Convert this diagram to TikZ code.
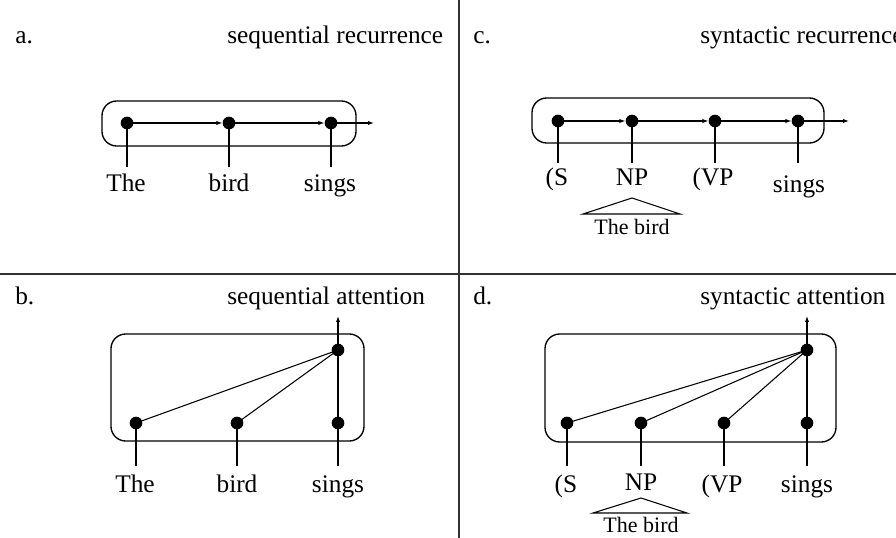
\documentclass[tikz,border=0pt]{standalone}
\usepackage{fontspec}
\setmainfont{Liberation Serif}
\usetikzlibrary{arrows.meta}
\begin{document}
\begin{tikzpicture}[x=0.75pt,y=-0.75pt,
  dot/.style={circle,fill=black,inner sep=0pt,minimum size=9.5pt},
  lbl/.style={anchor=base,inner sep=0pt,font=\fontsize{19}{22}\selectfont},
  title/.style={anchor=base west,inner sep=0pt,font=\fontsize{19}{22}\selectfont},
  small/.style={anchor=base,inner sep=0pt,font=\fontsize{16.5}{19}\selectfont},
  box/.style={draw,line width=1pt,rounded corners=11pt},
  conn/.style={line width=0.8pt},
  arr/.style={line width=0.8pt,-{Latex[length=4.5pt,width=3.2pt]}},
  divider/.style={line width=0.9pt,draw=black!80}]
\clip (0,0) rectangle (896,538);
% dividers
\draw[divider] (459,0) -- (459,538);
\draw[divider] (0,274) -- (896,274);
% titles
\node[title] (ta) at (15,44) {a.};
\node[title] (tat) at (227,44) {sequential recurrence};
\node[title] (tb) at (15,305) {b.};
\node[title] (tbt) at (227,305) {sequential attention};
\node[title] (tc) at (473,44) {c.};
\node[title] (tct) at (700,44) {syntactic recurrence};
\node[title] (td) at (473,305) {d.};
\node[title] (tdt) at (700,305) {syntactic attention};

% ---------- panel a ----------
\draw[box] (102,101) rectangle (356,146);
\node[dot] (a1) at (127,123) {};
\node[dot] (a2) at (229,123) {};
\node[dot] (a3) at (331,123) {};
\coordinate (aout) at (374,123);
\coordinate (al1) at (127,167);
\coordinate (al2) at (229,167);
\coordinate (al3) at (331,167);
\draw[arr] (a1.center) -- (a2);
\draw[arr] (a2.center) -- (a3);
\draw[arr] (a3.center) -- (aout);
\draw[conn] (a1.center) -- (al1);
\draw[conn] (a2.center) -- (al2);
\draw[conn] (a3.center) -- (al3);
\node[lbl] (aw1) at (126,192) {The};
\node[lbl] (aw2) at (229,192) {bird};
\node[lbl] (aw3) at (330,192) {sings};

% ---------- panel c ----------
\draw[box] (532,98) rectangle (824,143);
\node[dot] (c1) at (558,121) {};
\node[dot] (c2) at (632,121) {};
\node[dot] (c3) at (715,121) {};
\node[dot] (c4) at (798,121) {};
\coordinate (cout) at (849,121);
\coordinate (cl1) at (558,163);
\coordinate (cl2) at (632,163);
\coordinate (cl3) at (715,163);
\coordinate (cl4) at (798,163);
\draw[arr] (c1.center) -- (c2);
\draw[arr] (c2.center) -- (c3);
\draw[arr] (c3.center) -- (c4);
\draw[arr] (c4.center) -- (cout);
\draw[conn] (c1.center) -- (cl1);
\draw[conn] (c2.center) -- (cl2);
\draw[conn] (c3.center) -- (cl3);
\draw[conn] (c4.center) -- (cl4);
\node[lbl] (cw1) at (557,186) {(S};
\node[lbl] (cw2) at (632,186) {NP};
\node[lbl] (cw3) at (713,186) {(VP};
\node[lbl] (cw4) at (799,193) {sings};
\coordinate (ctA) at (632,198);
\coordinate (ctL) at (583,214);
\coordinate (ctR) at (680,214);
\draw[conn] (ctL) -- (ctA) -- (ctR) -- cycle;
\node[small] (cbird) at (632,235) {The bird};

% ---------- panel b ----------
\draw[box] (111,334) rectangle (364,441);
\node[dot] (bt) at (338,350) {};
\node[dot] (b1) at (136,423) {};
\node[dot] (b2) at (237,423) {};
\node[dot] (b3) at (338,423) {};
\coordinate (bout) at (338,316);
\coordinate (bl1) at (136,466);
\coordinate (bl2) at (237,466);
\coordinate (bl3) at (338,466);
\draw[conn] (b1.center) -- (bt.center);
\draw[conn] (b2.center) -- (bt.center);
\draw[conn] (b1.center) -- (bl1);
\draw[conn] (b2.center) -- (bl2);
\draw[arr] (bl3) -- (bout);
\node[lbl] (bw1) at (135,492) {The};
\node[lbl] (bw2) at (237,492) {bird};
\node[lbl] (bw3) at (338,492) {sings};

% ---------- panel d ----------
\draw[box] (545,334) rectangle (836,442);
\node[dot] (dt) at (807,350) {};
\node[dot] (d1) at (567,423) {};
\node[dot] (d2) at (641,423) {};
\node[dot] (d3) at (724,423) {};
\node[dot] (d4) at (807,423) {};
\coordinate (dout) at (807,316);
\coordinate (dl1) at (567,466);
\coordinate (dl2) at (641,466);
\coordinate (dl3) at (724,466);
\coordinate (dl4) at (807,466);
\draw[conn] (d1.center) -- (dt.center);
\draw[conn] (d2.center) -- (dt.center);
\draw[conn] (d3.center) -- (dt.center);
\draw[conn] (d1.center) -- (dl1);
\draw[conn] (d2.center) -- (dl2);
\draw[conn] (d3.center) -- (dl3);
\draw[arr] (dl4) -- (dout);
\node[lbl] (dw1) at (566,492) {(S};
\node[lbl] (dw2) at (641,490) {NP};
\node[lbl] (dw3) at (722,492) {(VP};
\node[lbl] (dw4) at (807,492) {sings};
\coordinate (dtA) at (641,498);
\coordinate (dtL) at (593,513);
\coordinate (dtR) at (687,513);
\draw[conn] (dtL) -- (dtA) -- (dtR) -- cycle;
\node[small] (dbird) at (641,532) {The bird};
\end{tikzpicture}
\end{document}
